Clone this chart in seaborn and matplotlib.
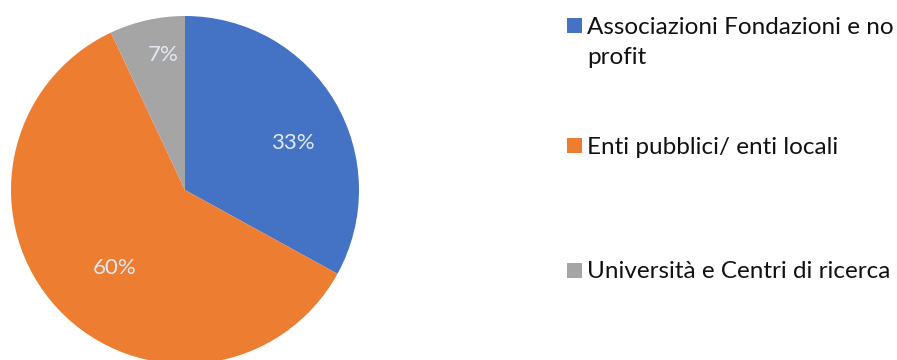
import matplotlib
matplotlib.use("Agg")
import numpy as np
import matplotlib.pyplot as plt
from matplotlib.patches import Rectangle
import seaborn as sns

# Share of partners by type
categories = [
    "Associazioni Fondazioni e no\nprofit",
    "Enti pubblici/ enti locali",
    "Università e Centri di ricerca",
]
shares = [33, 60, 7]
colors = ["#4472C4", "#ED7D31", "#A5A5A5"]

sns.set_theme(style="white")
plt.rcParams["font.family"] = ["Lato", "DejaVu Sans"]

W, H = 897, 360
fig = plt.figure(figsize=(W / 100, H / 100), dpi=100)
fig.patch.set_facecolor("white")

# Pie axes: centre (185, 190) px, radius 174 px
cx, cy, r = 185, 190, 174
ax = fig.add_axes([(cx - r) / W, (H - cy - r) / H, 2 * r / W, 2 * r / H])
wedges, texts, autotexts = ax.pie(
    shares,
    colors=sns.color_palette(colors),
    startangle=90,
    counterclock=False,
    radius=1,
    autopct="%d%%",
    pctdistance=0.68,
    wedgeprops=dict(linewidth=0),
    textprops=dict(color="#e2e9f4", fontsize=16),
)
# best-fit placement of the percentage labels (angle in degrees, radius fraction)
label_angle = [23.5, 228.0, 99.3]
label_dist = [0.677, 0.602, 0.786]
for t, a, d in zip(autotexts, label_angle, label_dist):
    t.set_position((d * np.cos(np.radians(a)), d * np.sin(np.radians(a))))
    t.set_va("center")
    t.set_ha("center")
ax.set_xlim(-1, 1)
ax.set_ylim(-1, 1)
ax.set_aspect("equal")
ax.axis("off")

# Legend on the right, one row per category
row_y = [25, 145, 270]
line_pitch = 30
box = 15
for label, col, y in zip(categories, colors, row_y):
    fig.patches.append(
        Rectangle((567 / W, (H - y - box / 2) / H), box / W, box / H,
                  transform=fig.transFigure, facecolor=col, edgecolor="none")
    )
    for j, line in enumerate(label.split("\n")):
        fig.text(587 / W, (H - y - j * line_pitch) / H, line,
                 ha="left", va="center_baseline", fontsize=17.5,
                 color="#111111", transform=fig.transFigure)

fig.savefig("out.png", dpi=100, facecolor="white")
